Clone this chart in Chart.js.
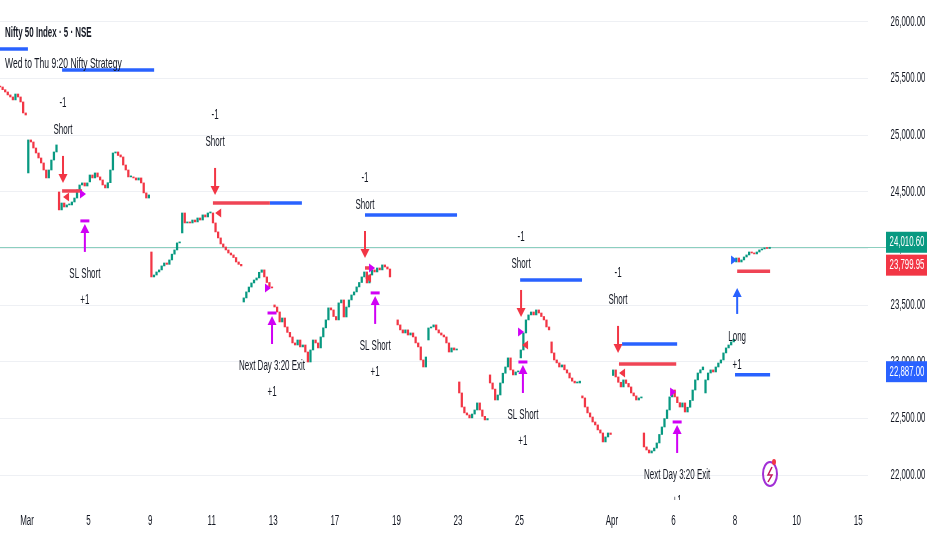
<!DOCTYPE html>
<html>
<head>
<meta charset="utf-8">
<script src="https://cdn.jsdelivr.net/npm/chart.js@4.4.1/dist/chart.umd.min.js"></script>
<style>
  html, body { margin: 0; padding: 0; background: #fff; }
  #wrap { width: 932px; height: 550px; position: relative; }
</style>
</head>
<body>
<div id="wrap"><canvas id="myChart"></canvas></div>
<script>
// trading days, first one is index -1 (partly off the left edge)
const dayDates = ["Feb 27", "Mar 2", "Mar 4", "Mar 5", "Mar 6", "Mar 9", "Mar 10", "Mar 11", "Mar 12",
  "Mar 13", "Mar 16", "Mar 17", "Mar 18", "Mar 19", "Mar 20", "Mar 23", "Mar 24", "Mar 25", "Mar 27",
  "Mar 30", "Apr 1", "Apr 2", "Apr 6", "Apr 7", "Apr 8", "Apr 9"];
const dayOpens = [25440, 24666, 24498, 24587, 24825, 23969, 24137, 24313, 23528, 23502, 23149, 23400,
  23793, 23370, 23193, 22823, 22885, 23035, 23176, 22700, 22880, 22373, 22752, 22726, 23881, 24005];
const dayCloses = [
  [25430, 25424, 25400, 25380, 25354, 25336, 25310, 25362, 25336, 25292, 25195, 25177],
  [24957, 24939, 24886, 24842, 24798, 24754, 24692, 24622, 24692, 24780, 24851, 24913],
  [24340, 24401, 24366, 24384, 24384, 24410, 24445, 24516, 24560, 24578, 24551, 24578],
  [24648, 24622, 24666, 24631, 24604, 24560, 24534, 24580, 24692, 24842, 24851, 24820],
  [24807, 24736, 24692, 24631, 24631, 24622, 24604, 24622, 24578, 24490, 24445, 24472],
  [23749, 23766, 23793, 23811, 23846, 23872, 23860, 23899, 23950, 23987, 24049, 24057],
  [24313, 24225, 24234, 24225, 24251, 24234, 24269, 24251, 24296, 24278, 24313, 24322],
  [24225, 24146, 24093, 24040, 24013, 23987, 23960, 23943, 23920, 23881, 23860, 23846],
  [23564, 23617, 23660, 23696, 23722, 23740, 23790, 23811, 23749, 23700, 23661, 23652],
  [23484, 23440, 23352, 23387, 23308, 23260, 23220, 23167, 23149, 23193, 23132, 23149],
  [23087, 22999, 23105, 23193, 23167, 23123, 23220, 23300, 23370, 23476, 23458, 23400],
  [23370, 23520, 23546, 23396, 23484, 23546, 23590, 23617, 23661, 23700, 23749, 23793],
  [23696, 23766, 23811, 23793, 23828, 23811, 23855, 23837, 23819, 23749],
  [23326, 23282, 23255, 23282, 23237, 23255, 23220, 23167, 23132, 23017, 22955, 23043],
  [23299, 23308, 23326, 23282, 23255, 23237, 23220, 23167, 23087, 23123, 23105, 23110],
  [22726, 22602, 22550, 22532, 22506, 22540, 22576, 22638, 22576, 22520, 22488, 22500],
  [22814, 22760, 22664, 22708, 22814, 22900, 22955, 23035, 22929, 22885, 22911, 22920],
  [23105, 23255, 23370, 23414, 23440, 23414, 23458, 23431, 23400, 23370, 23308, 23282],
  [23079, 23017, 22991, 22955, 22973, 22930, 22902, 22858, 22830, 22814, 22814, 22830],
  [22682, 22602, 22550, 22514, 22470, 22444, 22400, 22373, 22294, 22338, 22373, 22360],
  [22929, 22867, 22820, 22779, 22841, 22810, 22779, 22726, 22700, 22664, 22682, 22690],
  [22250, 22223, 22197, 22215, 22240, 22285, 22360, 22426, 22500, 22576, 22691, 22752],
  [22691, 22640, 22602, 22638, 22558, 22600, 22660, 22752, 22841, 22902, 22930, 22955],
  [22841, 22902, 22929, 22911, 22955, 22990, 23017, 23079, 23123, 23149, 23176, 23200],
  [23916, 23881, 23899, 23925, 23943, 23969, 23960, 23952, 23969, 23987, 23996, 24005],
  [24000, 24010.6]
];
const SLOTS = 12;
const lastPrice = 24010.6;

// axis ticks
const xTickPos = [0, 2, 4, 6, 8, 10, 12, 14, 16, 19, 21, 23, 25, 27];
const xTickLabels = ["Mar", "5", "9", "11", "13", "17", "19", "23", "25", "Apr", "6", "8", "10", "15"];
const yTicks = [22000, 22500, 23000, 23500, 24000, 24500, 25000, 25500, 26000];

// strategy signals: [day position, price]
const shortSignals = [[1.17, 24578], [6.11, 24472], [10.98, 23916], [16.05, 23396], [19.2, 23079]];
const exitSignals = [[1.88, 24243], [7.96, 23431], [11.31, 23608], [16.11, 22999], [21.12, 22470]];
const exitNames = ["SL Short", "Next Day 3:20 Exit", "SL Short", "SL Short", "Next Day 3:20 Exit"];
const longSignals = [[23.07, 23652]];
const exitFills = [[1.82, 24481], [7.83, 23652], [11.21, 23828], [16.05, 23264], [20.99, 22735]];
const shortFills = [[1.27, 24454], [6.21, 24313], [11.08, 23740], [16.18, 23149], [19.33, 22902]];
const longFills = [[22.97, 23899]];

// level segments: [from, to, price]
const redLevels = [[1.14, 1.79, 24507], [6.04, 7.89, 24401], [10.98, 11.21, 23828], [19.23, 21.09, 22981],
  [23.07, 24.14, 23799.95]];
const blueLevels = [[-0.88, 0.03, 25759], [1.14, 4.13, 25574], [7.89, 8.93, 24401], [10.98, 13.97, 24296],
  [16.02, 18.03, 23722], [19.33, 21.12, 23158], [23.0, 24.14, 22887]];

const GREEN = "#089981";
const RED = "#f23645";
const BLUE = "#2962ff";
const MAGENTA = "#d000f5";
const TEXT = "#131722";
const FONT = '"Liberation Sans", Arial, sans-serif';

const candles = [];
dayCloses.forEach((closes, d) => {
  let prev = dayOpens[d];
  closes.forEach((c, k) => {
    candles.push({ x: d - 1 + (k + 0.5) / SLOTS, y: [prev, c], up: c >= prev });
    prev = c;
  });
});

const levelSet = (levels, color) => levels.map(([a, b, p]) => ({
  type: "line",
  data: [{ x: a, y: p }, { x: b, y: p }],
  borderColor: color,
  borderWidth: 3.5,
  borderCapStyle: "butt",
  pointRadius: 0,
  order: 1,
}));

const drawText = (ctx, txt, x, y, size, color, opts = {}) => {
  ctx.save();
  ctx.font = `${opts.weight || "normal"} ${size}px ${FONT}`;
  ctx.fillStyle = color;
  ctx.textBaseline = "middle";
  ctx.textAlign = opts.align || "center";
  ctx.translate(x, y);
  ctx.scale(opts.squash || 0.57, 1);
  ctx.fillText(txt, 0, 0);
  ctx.restore();
};

const downArrow = (ctx, x, tip, color) => {
  ctx.fillStyle = color;
  ctx.fillRect(x - 1, tip - 27, 2, 19);
  ctx.beginPath();
  ctx.moveTo(x - 4.5, tip - 9);
  ctx.lineTo(x + 4.5, tip - 9);
  ctx.lineTo(x, tip);
  ctx.closePath();
  ctx.fill();
};

const upArrow = (ctx, x, head, color, len) => {
  ctx.fillStyle = color;
  ctx.beginPath();
  ctx.moveTo(x - 4.5, head + 9);
  ctx.lineTo(x + 4.5, head + 9);
  ctx.lineTo(x, head);
  ctx.closePath();
  ctx.fill();
  ctx.fillRect(x - 1, head + 8, 2, len - 8);
};

const triangle = (ctx, x, y, color, dir) => {
  ctx.fillStyle = color;
  ctx.beginPath();
  ctx.moveTo(x - 3 * dir, y - 4.5);
  ctx.lineTo(x + 3 * dir, y);
  ctx.lineTo(x - 3 * dir, y + 4.5);
  ctx.closePath();
  ctx.fill();
};

const fmt = (v) => v.toLocaleString("en-US", { minimumFractionDigits: 2, maximumFractionDigits: 2 });

const priceBox = (ctx, left, cy, value, color) => {
  ctx.fillStyle = color;
  ctx.fillRect(left, cy - 10.5, 41, 21);
  drawText(ctx, fmt(value), left + 21, cy, 14, "#fff", { squash: 0.56 });
};

const strategyPlugin = {
  id: "strategy",
  beforeDatasetsDraw(chart) {
    const { ctx, chartArea: area, scales: { y } } = chart;
    const py = Math.round(y.getPixelForValue(lastPrice)) + 0.5;
    ctx.save();
    ctx.strokeStyle = "#8ccfbf";
    ctx.lineWidth = 1;
    ctx.beginPath();
    ctx.moveTo(area.left, py);
    ctx.lineTo(area.right + 18, py);
    ctx.stroke();
    ctx.restore();
  },
  afterDatasetsDraw(chart) {
    const { ctx, chartArea: area, scales: { x, y } } = chart;
    ctx.save();
    ctx.beginPath();
    ctx.rect(area.left, area.top, area.right - area.left, area.bottom - area.top);
    ctx.clip();

    shortFills.forEach(([d, p]) => triangle(ctx, x.getPixelForValue(d), y.getPixelForValue(p), RED, -1));
    exitFills.forEach(([d, p]) => triangle(ctx, x.getPixelForValue(d), y.getPixelForValue(p), MAGENTA, 1));
    longFills.forEach(([d, p]) => triangle(ctx, x.getPixelForValue(d), y.getPixelForValue(p), BLUE, 1));

    shortSignals.forEach(([d, p]) => {
      const px = x.getPixelForValue(d);
      const tip = y.getPixelForValue(p);
      downArrow(ctx, px, tip, RED);
      drawText(ctx, "Short", px, tip - 53, 14, TEXT);
      drawText(ctx, "-1", px, tip - 80, 14, TEXT);
    });

    exitSignals.forEach(([d, p], i) => {
      const px = x.getPixelForValue(d);
      const top = y.getPixelForValue(p);
      ctx.fillStyle = MAGENTA;
      ctx.fillRect(px - 4.5, top - 1.5, 9, 3);
      upArrow(ctx, px, top + 3, MAGENTA, 28);
      drawText(ctx, exitNames[i], px, top + 53, 14, TEXT);
      drawText(ctx, "+1", px, top + 79, 14, TEXT);
    });

    longSignals.forEach(([d, p]) => {
      const px = x.getPixelForValue(d);
      const head = y.getPixelForValue(p);
      upArrow(ctx, px, head, BLUE, 26);
      drawText(ctx, "Long", px, head + 49, 14, TEXT);
      drawText(ctx, "+1", px, head + 77, 14, TEXT);
    });

    // TradingView badge near the bottom right
    const bx = area.right - 98, by = area.bottom - 26;
    ctx.lineWidth = 2;
    ctx.strokeStyle = "#a12fd6";
    ctx.beginPath();
    ctx.ellipse(bx, by, 7, 12, 0, 0, Math.PI * 2);
    ctx.stroke();
    ctx.strokeStyle = "#c2185b";
    ctx.lineWidth = 1.5;
    ctx.beginPath();
    ctx.moveTo(bx + 2, by - 7);
    ctx.lineTo(bx - 2, by + 1);
    ctx.lineTo(bx + 2, by + 1);
    ctx.lineTo(bx - 2, by + 8);
    ctx.stroke();
    ctx.fillStyle = "#f23645";
    ctx.beginPath();
    ctx.ellipse(bx + 4, by - 12, 2, 3, 0, 0, Math.PI * 2);
    ctx.fill();
    ctx.restore();
  },
  afterDraw(chart) {
    const { ctx, chartArea: area, scales: { x, y } } = chart;
    ctx.save();
    // price axis labels
    yTicks.forEach((v) => {
      drawText(ctx, fmt(v), area.right + 40, y.getPixelForValue(v), 14, TEXT, { squash: 0.56 });
    });
    // time axis labels
    xTickPos.forEach((d, i) => {
      drawText(ctx, xTickLabels[i], x.getPixelForValue(d), area.bottom + 21, 14, TEXT);
    });
    // last price / levels on the price axis
    const boxLeft = area.right + 18;
    priceBox(ctx, boxLeft, y.getPixelForValue(lastPrice) - 5, lastPrice, GREEN);
    priceBox(ctx, boxLeft, y.getPixelForValue(redLevels[4][2]) - 6, redLevels[4][2], RED);
    priceBox(ctx, boxLeft, y.getPixelForValue(blueLevels[6][2]) - 3, blueLevels[6][2], BLUE);
    // legend
    drawText(ctx, "Nifty 50 Index · 5 · NSE", 5, 33, 15, TEXT, { weight: "bold", align: "left", squash: 0.53 });
    drawText(ctx, "Wed to Thu 9:20 Nifty Strategy", 5, 64, 15, TEXT, { align: "left", squash: 0.57 });
    ctx.restore();
  },
};

const datasets = [
  {
    type: "bar",
    data: candles,
    backgroundColor: (c) => (c.raw && c.raw.up ? GREEN : RED),
    barThickness: 1.6,
    minBarLength: 1,
    order: 2,
  },
  ...levelSet(redLevels, "#ef4455"),
  ...levelSet(blueLevels, BLUE),
];

const config = {
  type: "bar",
  data: { datasets },
  options: {
    responsive: true,
    maintainAspectRatio: false,
    animation: false,
    events: [],
    layout: { padding: 0 },
    plugins: { legend: { display: false }, tooltip: { enabled: false } },
    scales: {
      x: {
        type: "linear",
        min: -0.877,
        max: 27.32,
        offset: false,
        grid: { display: false },
        border: { display: false },
        ticks: { display: false },
        afterBuildTicks: (s) => { s.ticks = xTickPos.map((v) => ({ value: v })); },
        afterFit: (s) => { s.height = 50; },
      },
      y: {
        position: "right",
        min: 21782,
        max: 26191,
        grid: { color: "#eef0f4", drawTicks: false },
        border: { display: false },
        ticks: { display: false },
        afterBuildTicks: (s) => { s.ticks = yTicks.map((v) => ({ value: v })); },
        afterFit: (s) => { s.width = 64; },
      },
    },
  },
  plugins: [strategyPlugin],
};

const myChart = new Chart(document.querySelector("#myChart"), config);
</script>
</body>
</html>
